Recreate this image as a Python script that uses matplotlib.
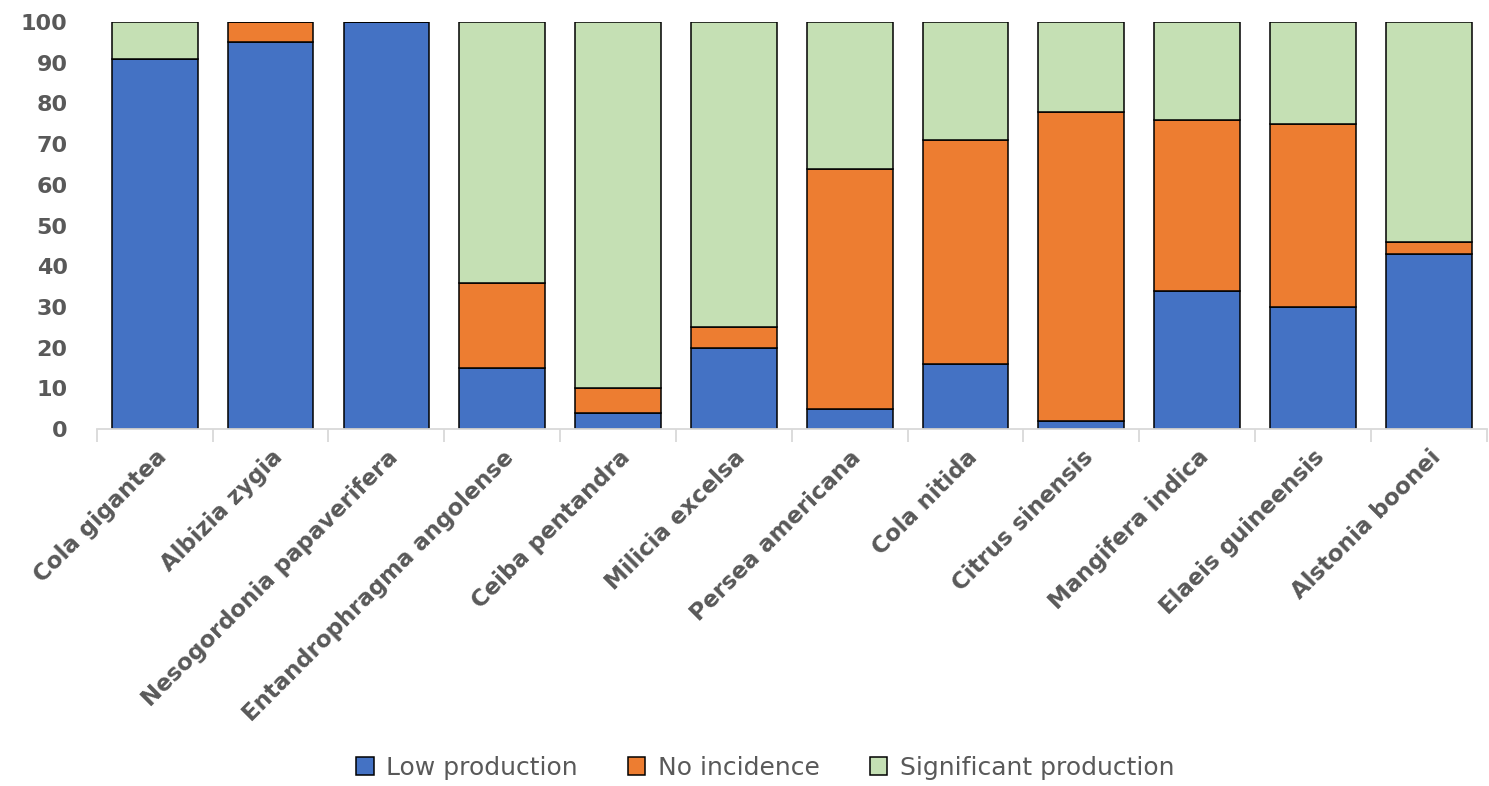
import numpy as np
import matplotlib.pyplot as plt
from matplotlib.ticker import FixedLocator, NullFormatter

species = ["Cola gigantea", "Albizia zygia", "Nesogordonia papaverifera",
           "Entandrophragma angolense", "Ceiba pentandra", "Milicia excelsa",
           "Persea americana", "Cola nitida", "Citrus sinensis",
           "Mangifera indica", "Elaeis guineensis", "Alstonia boonei"]

low_production = [91, 95, 100, 15, 4, 20, 5, 16, 2, 34, 30, 43]
no_incidence = [0, 5, 0, 21, 6, 5, 59, 55, 76, 42, 45, 3]
significant_production = [9, 0, 0, 64, 90, 75, 36, 29, 22, 24, 25, 54]

series = [("Low production", low_production, "#4472c4"),
          ("No incidence", no_incidence, "#ed7d31"),
          ("Significant production", significant_production, "#c5e0b4")]

grey = "#595959"

fig = plt.figure(figsize=(14.89, 7.86), dpi=100)
ax = fig.add_axes([0.065, 0.454, 0.9335, 0.518])

x = np.arange(len(species))
bottom = np.zeros(len(species))
for name, vals, col in series:
    vals = np.array(vals, dtype=float)
    ax.bar(x, vals, width=0.74, bottom=bottom, color=col,
           edgecolor="black", linewidth=1.1, label=name)
    bottom += vals

ax.set_xlim(-0.5, len(species) - 0.5)
ax.set_ylim(0, 100)
ax.set_yticks(np.arange(0, 101, 10))

for s in ["top", "right", "left"]:
    ax.spines[s].set_visible(False)
ax.spines["bottom"].set_color("#d9d9d9")
ax.spines["bottom"].set_linewidth(1.3)

# category labels centred, tick marks between categories
ax.set_xticks(x)
ax.set_xticklabels(species, rotation=45, ha="right", rotation_mode="anchor",
                   fontsize=16.5, fontweight="bold", color=grey)
ax.tick_params(axis="x", which="major", length=0, pad=12)
ax.xaxis.set_minor_locator(FixedLocator(np.arange(-0.5, len(species), 1.0)))
ax.xaxis.set_minor_formatter(NullFormatter())
ax.tick_params(axis="x", which="minor", length=9, width=1.3, color="#d9d9d9")

ax.tick_params(axis="y", length=0, pad=21, labelsize=16, labelcolor=grey)
for lab in ax.get_yticklabels():
    lab.set_fontweight("bold")

leg = fig.legend(loc="center", bbox_to_anchor=(0.514, 0.023), ncol=3,
                 frameon=False, fontsize=18, handlelength=0.7,
                 handleheight=0.7, handletextpad=0.5, columnspacing=2.0)
for t in leg.get_texts():
    t.set_color(grey)

fig.savefig("out.png", dpi=100)
